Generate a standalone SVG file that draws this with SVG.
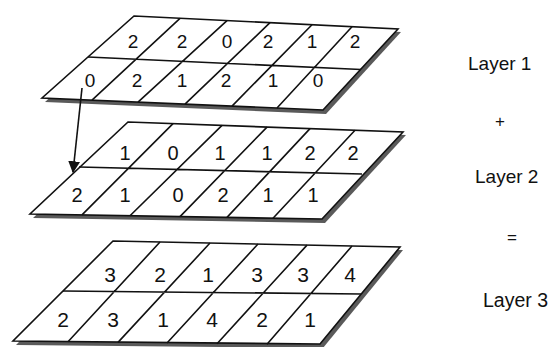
<svg xmlns="http://www.w3.org/2000/svg" width="550" height="347" viewBox="0 0 550 347">
<style>
.sh{fill:#5a5a5a;stroke:none}
.pl{fill:#fff;stroke:#111;stroke-width:1.6;stroke-linejoin:miter}
.ln{stroke:#111;stroke-width:1.6;fill:none}
.d{font-family:"Liberation Sans",Arial,sans-serif;fill:#111;text-anchor:middle}
.lb{font-family:"Liberation Sans",Arial,sans-serif;fill:#111}
</style>
<defs>
<marker id="ah" viewBox="0 0 10 10" refX="9" refY="5" markerWidth="12" markerHeight="12" markerUnits="userSpaceOnUse" orient="auto">
<path d="M0,0 L10,5 L0,10 Z" fill="#111"/>
</marker>
</defs>
<rect width="550" height="347" fill="#fff"/>

<g id="layer1">
<polygon class="sh" points="137,19 401,32 326,114 45,102"/>
<polygon class="pl" points="134,16 398,29 323,110 42,98"/>
<path class="ln" d="M88,57 L361,69.5 M180,18.3 L92,100.1 M227,20.6 L138,102.1 M270,22.7 L185,104.1 M312,24.8 L232,106.1 M352,26.7 L277,108"/>
<g class="d" font-size="19">
<text x="133" y="48">2</text><text x="182" y="48">2</text><text x="227" y="48">0</text><text x="268" y="48">2</text><text x="312" y="48">1</text><text x="355" y="48">2</text>
<text x="90" y="87">0</text><text x="137" y="87">2</text><text x="182" y="87">1</text><text x="226" y="87">2</text><text x="273" y="87">1</text><text x="318" y="87">0</text>
</g>
</g>

<g id="layer2">
<polygon class="sh" points="131,125 406,135 325,223 33,218"/>
<polygon class="pl" points="128,122 403,132 322,219 30,214"/>
<path class="ln" d="M79,167 L362,174 M173,123.6 L82,214.9 M222,125.4 L130,215.7 M267,127.1 L180,216.6 M310,128.6 L227,217.4 M355,130.3 L273,218.2"/>
<g class="d" font-size="20">
<text x="125" y="160">1</text><text x="173" y="160">0</text><text x="220" y="160">1</text><text x="267" y="160">1</text><text x="310" y="160">2</text><text x="353" y="160">2</text>
<text x="77" y="202">2</text><text x="125" y="202">1</text><text x="178" y="202">0</text><text x="223" y="202">2</text><text x="268" y="202">1</text><text x="313" y="202">1</text>
</g>
</g>

<g id="layer3">
<polygon class="sh" points="116,244 403,250 323,348 16,345"/>
<polygon class="pl" points="113,241 400,247 320,344 13,341"/>
<path class="ln" d="M63,291 L361,294 M160,242 L68,341.7 M210,243 L118,342.4 M258,244 L167,343 M307,245.1 L217,343.7 M352,246 L267,344.3"/>
<g class="d" font-size="21">
<text x="110" y="282">3</text><text x="160" y="282">2</text><text x="208" y="282">1</text><text x="257" y="282">3</text><text x="303" y="282">3</text><text x="350" y="282">4</text>
<text x="63" y="327">2</text><text x="113" y="327">3</text><text x="163" y="327">1</text><text x="212" y="327">4</text><text x="262" y="327">2</text><text x="310" y="327">1</text>
</g>
</g>

<g id="connectors">
<line x1="82" y1="88" x2="73" y2="172" stroke="#111" stroke-width="1.6" marker-end="url(#ah)"/>
</g>

<g id="labels">
<text class="lb" x="468" y="70" font-size="19">Layer 1</text>
<text class="lb" x="500" y="127" font-size="17" text-anchor="middle">+</text>
<text class="lb" x="475" y="183" font-size="19">Layer 2</text>
<text class="lb" x="512" y="243" font-size="17" text-anchor="middle">=</text>
<text class="lb" x="483" y="307" font-size="19.5">Layer 3</text>
</g>
</svg>
